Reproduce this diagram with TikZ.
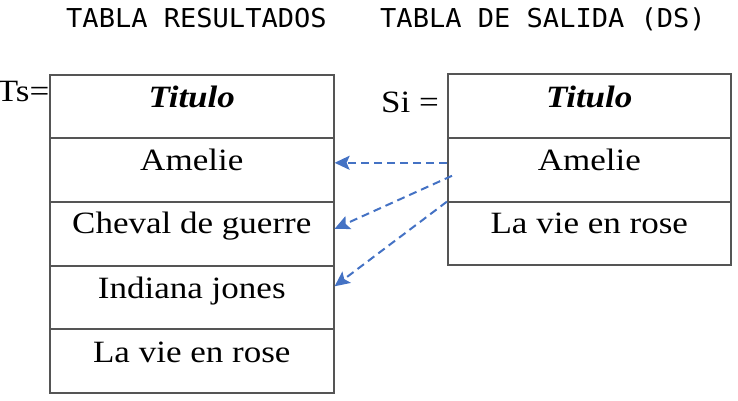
\documentclass[tikz,border=0pt]{standalone}
\usepackage{fontspec}
\setmainfont[FakeStretch=1.13]{Liberation Serif}
\newfontfamily\titlemono[FakeStretch=1.04]{DejaVu Sans Mono}
\usetikzlibrary{arrows.meta,calc}
\definecolor{arrowblue}{RGB}{68,114,196}
\definecolor{gridgray}{RGB}{85,85,85}
\tikzset{
  cell/.style={draw=gridgray, line width=1.6pt, rectangle, inner sep=0pt, anchor=north west},
  lcell/.style={cell, minimum width=284pt, minimum height=64pt},
  rcell/.style={cell, minimum width=283pt, minimum height=64pt},
  celltext/.style={anchor=base, inner sep=0pt, font=\fontsize{31}{36}\selectfont},
  headtext/.style={celltext, font=\fontsize{31}{36}\selectfont\bfseries\itshape},
  toptitle/.style={anchor=base west, inner sep=0pt, font=\titlemono\fontsize{26}{30}\selectfont},
  eqlabel/.style={anchor=base east, inner sep=0pt, font=\fontsize{31}{36}\selectfont},
  link/.style={draw=arrowblue, line width=2pt, dash pattern=on 8pt off 5pt,
    -{Stealth[length=15pt,width=14pt,inset=3pt]}}
}
\begin{document}
\begin{tikzpicture}[x=1pt,y=-1pt]
\useasboundingbox (0,0) rectangle (738,401);
% titles
\node[toptitle] (t1) at (66,28) {TABLA RESULTADOS};
\node[toptitle] (t2) at (380,28) {TABLA DE SALIDA (DS)};
% left table
\node[lcell, minimum height=63pt] (l0) at (49,74) {};
\node[lcell] (l1) at (49,137) {};
\node[lcell] (l2) at (49,201) {};
\node[lcell, minimum height=63pt] (l3) at (49,265) {};
\node[lcell] (l4) at (49,328) {};
\node[headtext] (l0t) at ($(l0.north)+(0,33)$) {Titulo};
\node[celltext] (l1t) at ($(l1.north)+(0,33)$) {Amelie};
\node[celltext] (l2t) at ($(l2.north)+(0,32)$) {Cheval de guerre};
\node[celltext] (l3t) at ($(l3.north)+(0,33)$) {Indiana jones};
\node[celltext] (l4t) at ($(l4.north)+(0,34)$) {La vie en rose};
\node[eqlabel] (ts) at (49.5,102) {Ts=};
% right table
\node[rcell] (r0) at (447,73) {};
\node[rcell] (r1) at (447,137) {};
\node[rcell, minimum height=63pt] (r2) at (447,201) {};
\node[headtext] (r0t) at ($(r0.north)+(0,34)$) {Titulo};
\node[celltext] (r1t) at ($(r1.north)+(0,33)$) {Amelie};
\node[celltext] (r2t) at ($(r2.north)+(0,32)$) {La vie en rose};
\node[eqlabel] (si) at (439,113) {Si =};
% connectors
\coordinate (s1) at ($(r1.west)+(0,-7)$);
\coordinate (e1) at ($(l1.east)+(0,-7)$);
\coordinate (s2) at ($(r1.west)+(5,6)$);
\coordinate (e2) at ($(l2.east)+(0,-5)$);
\coordinate (s3) at ($(r1.south west)+(0,-1)$);
\coordinate (e3) at ($(l3.east)+(0,-11)$);
\draw[link] (s1) -- (e1);
\draw[link] (s2) -- (e2);
\draw[link] (s3) -- (e3);
\end{tikzpicture}
\end{document}
